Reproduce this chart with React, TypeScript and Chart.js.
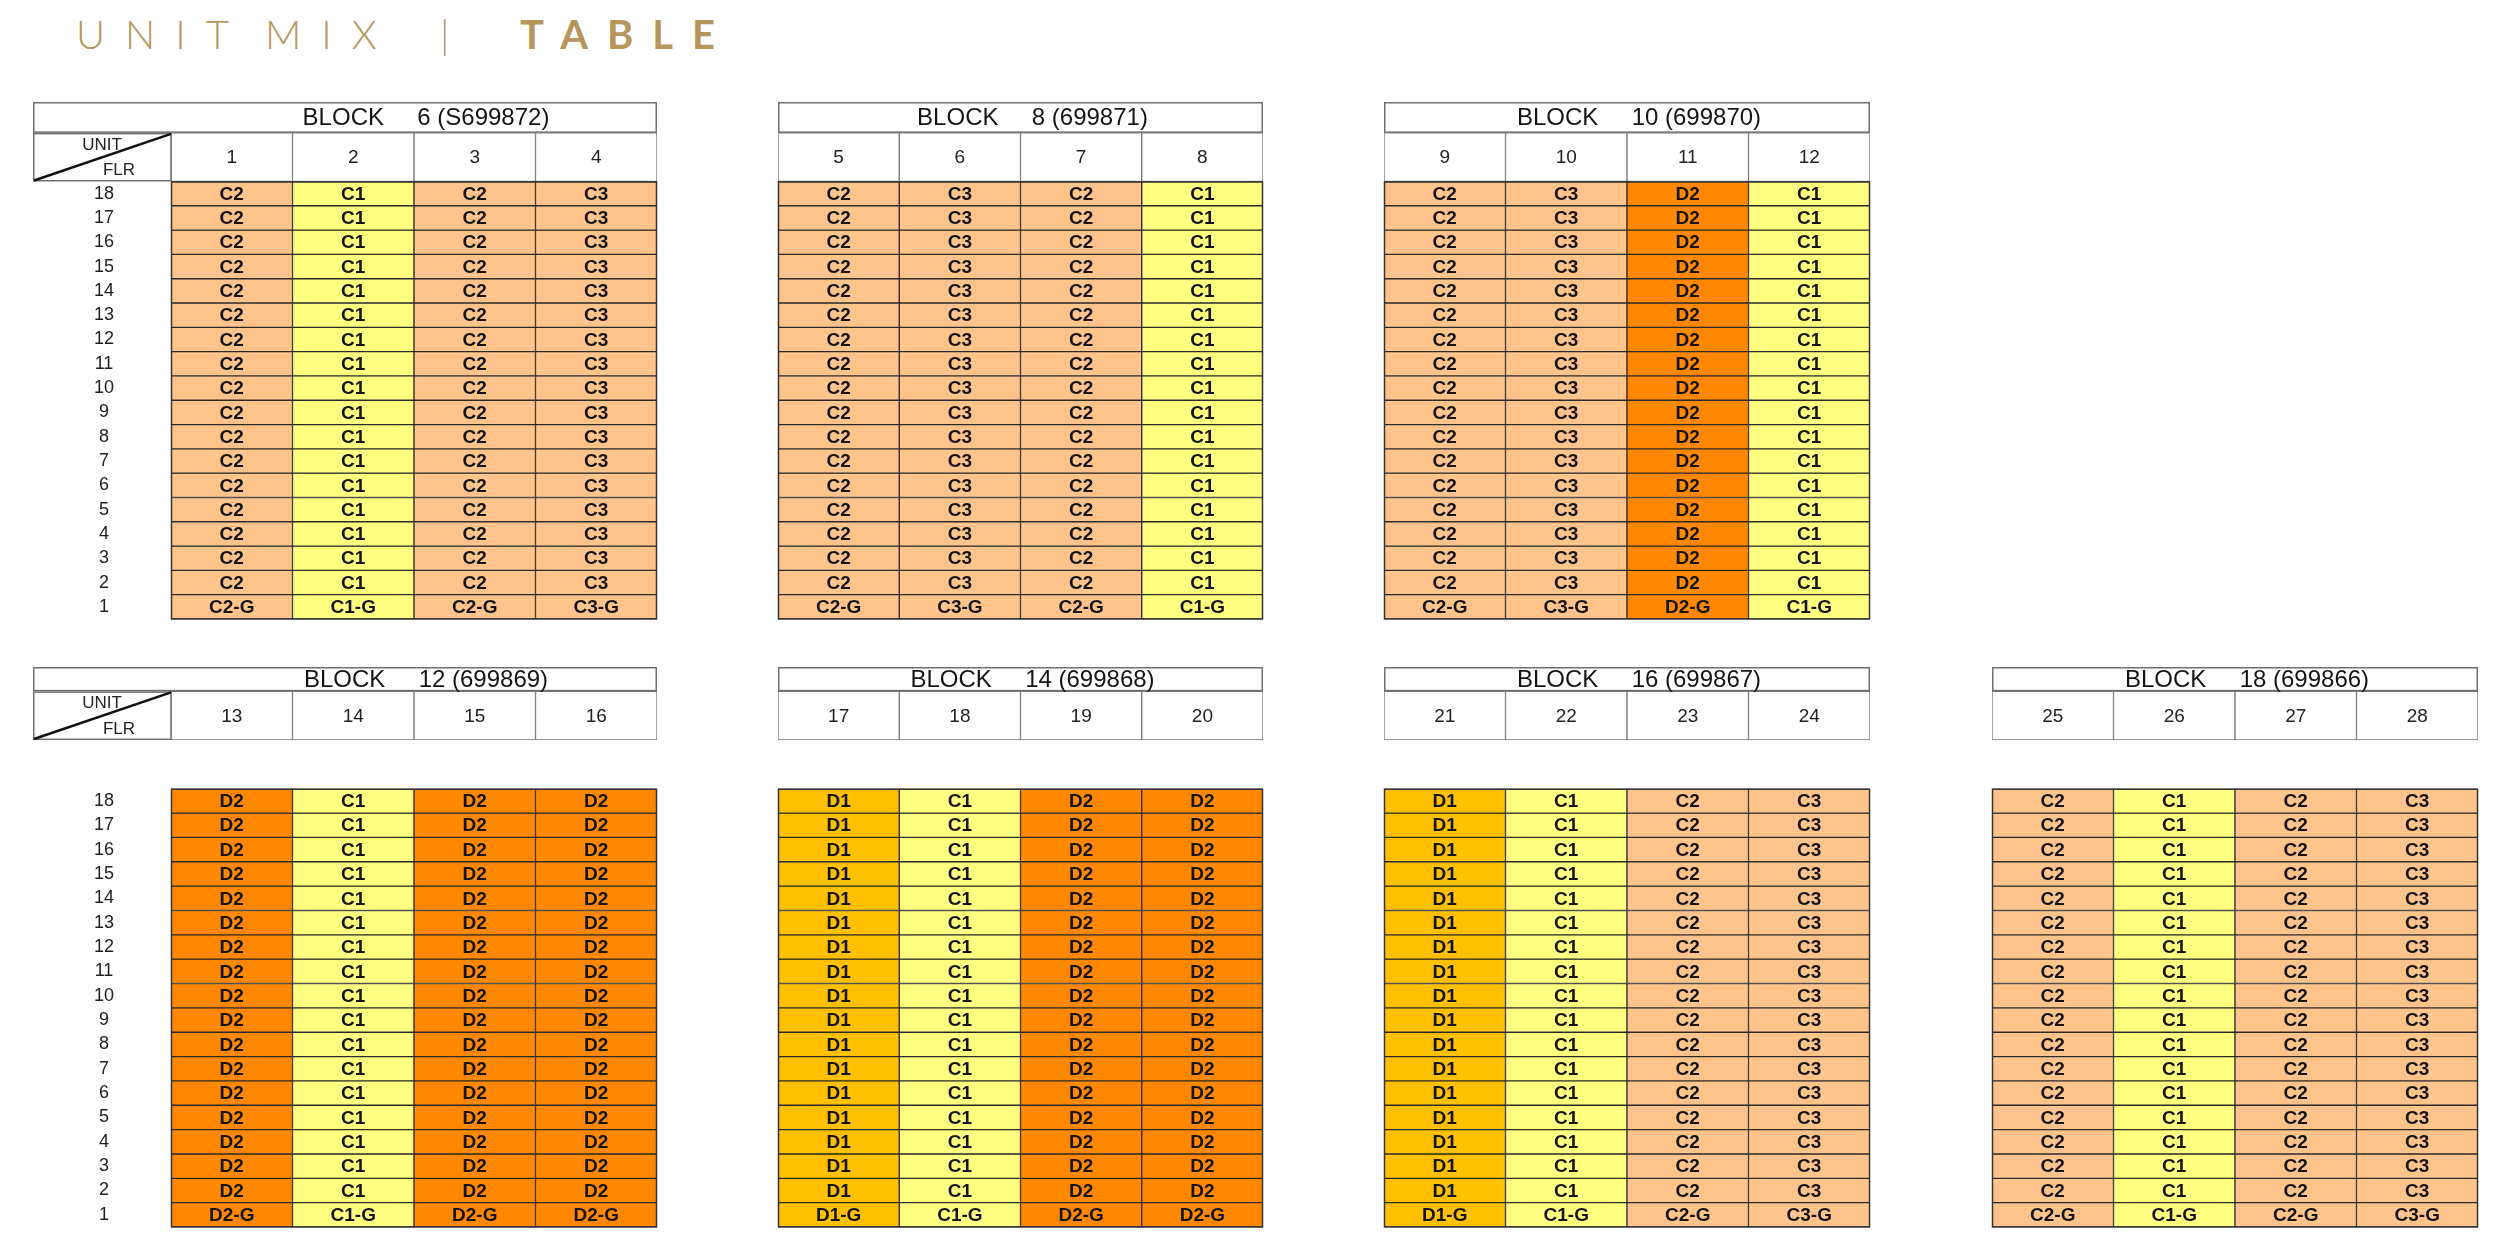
import React, { useEffect, useRef } from "react";
import { Chart, registerables } from "chart.js";

Chart.register(...registerables);

// ---------- data ----------
const floors = [18, 17, 16, 15, 14, 13, 12, 11, 10, 9, 8, 7, 6, 5, 4, 3, 2, 1];

const blockTitles = [
  "BLOCK     6 (S699872)",
  "BLOCK     8 (699871)",
  "BLOCK     10 (699870)",
  "BLOCK     12 (699869)",
  "BLOCK     14 (699868)",
  "BLOCK     16 (699867)",
  "BLOCK     18 (699866)",
];

const blockUnits = [
  ["1", "2", "3", "4"],
  ["5", "6", "7", "8"],
  ["9", "10", "11", "12"],
  ["13", "14", "15", "16"],
  ["17", "18", "19", "20"],
  ["21", "22", "23", "24"],
  ["25", "26", "27", "28"],
];

// unit type on floors 2-18
const typicalMix = [
  ["C2", "C1", "C2", "C3"],
  ["C2", "C3", "C2", "C1"],
  ["C2", "C3", "D2", "C1"],
  ["D2", "C1", "D2", "D2"],
  ["D1", "C1", "D2", "D2"],
  ["D1", "C1", "C2", "C3"],
  ["C2", "C1", "C2", "C3"],
];

// unit type on floor 1
const groundMix = [
  ["C2-G", "C1-G", "C2-G", "C3-G"],
  ["C2-G", "C3-G", "C2-G", "C1-G"],
  ["C2-G", "C3-G", "D2-G", "C1-G"],
  ["D2-G", "C1-G", "D2-G", "D2-G"],
  ["D1-G", "C1-G", "D2-G", "D2-G"],
  ["D1-G", "C1-G", "C2-G", "C3-G"],
  ["C2-G", "C1-G", "C2-G", "C3-G"],
];

const hasFloorColumn = [true, false, false, true, false, false, false];

// ---------- styles / layout ----------
const typeColours: Record<string, string> = {
  C1: "#FFFF80",
  C2: "#FFC48C",
  C3: "#FFC48C",
  D1: "#FFC000",
  D2: "#FF8800",
};

const FONT = '"Liberation Sans", Arial, sans-serif';
const PAD = 2;
const FLOOR_COL = 138;

const frames: Record<string, { top: number; bottom: number; max: number; head: [number, number]; title: [number, number] }> = {
  top: { top: 102, bottom: 619, max: 21.27, head: [18, 20], title: [20, 21.27] },
  bottom: { top: 667, bottom: 1227, max: 23, head: [20, 22], title: [22, 23] },
};

const blockLayout = [
  { left: 33, right: 657, row: "top" },
  { left: 778, right: 1263, row: "top" },
  { left: 1384, right: 1870, row: "top" },
  { left: 33, right: 657, row: "bottom" },
  { left: 778, right: 1263, row: "bottom" },
  { left: 1384, right: 1870, row: "bottom" },
  { left: 1992, right: 2478, row: "bottom" },
];

const cellTextPlugin = {
  id: "cellText",
  afterDatasetsDraw(chart: any) {
    const ctx = chart.ctx;
    chart.data.datasets.forEach((ds: any, di: number) => {
      const meta = chart.getDatasetMeta(di);
      ctx.save();
      ctx.font = ds.cellFont;
      ctx.fillStyle = ds.cellColor;
      ctx.textAlign = "center";
      ctx.textBaseline = "middle";
      meta.data.forEach((el: any, i: number) => {
        const cy = (el.y + el.base) / 2;
        ctx.fillText(ds.cellText[i], el.x, cy + 1);
      });
      ctx.restore();
    });
  },
};

function Block({ index }: { index: number }) {
  const ref = useRef<HTMLCanvasElement>(null);
  const lay = blockLayout[index];
  const frame = frames[lay.row];
  const width = lay.right - lay.left + 2 * PAD;
  const height = frame.bottom - frame.top + 2 * PAD;

  useEffect(() => {
    const units = blockUnits[index];
    const floorCol = hasFloorColumn[index];
    const typeAt = (f: number, i: number) => (f === 1 ? groundMix[index][i] : typicalMix[index][i]);

    const floorSets = floors.map((f) => ({
      label: `Floor ${f}`,
      data: units.map(() => [f - 1, f]),
      backgroundColor: units.map((_, i) => typeColours[typeAt(f, i).replace("-G", "")]),
      borderColor: "#2a2a2a",
      borderWidth: 1,
      borderSkipped: false,
      grouped: false,
      barPercentage: 1,
      categoryPercentage: 1,
      cellText: units.map((_, i) => typeAt(f, i)),
      cellFont: `bold 19px ${FONT}`,
      cellColor: "#141414",
    }));

    const headSet = {
      label: "Unit",
      data: units.map(() => [frame.head[0], frame.head[1]]),
      backgroundColor: "#ffffff",
      borderColor: "#777777",
      borderWidth: 1,
      borderSkipped: false,
      grouped: false,
      barPercentage: 1,
      categoryPercentage: 1,
      cellText: units,
      cellFont: `19px ${FONT}`,
      cellColor: "#222222",
    };

    const framePlugin = {
      id: "blockFrame",
      afterDraw(chart: any) {
        const { ctx, chartArea } = chart;
        const y = chart.scales.y;
        const left = floorCol ? y.left : chartArea.left;
        const right = chartArea.right;
        const tTop = y.getPixelForValue(frame.title[1]);
        const tBot = y.getPixelForValue(frame.title[0]);
        ctx.save();
        // title cell
        ctx.strokeStyle = "#707070";
        ctx.lineWidth = 1.5;
        ctx.strokeRect(left + 0.75, tTop + 0.75, right - left - 1.5, tBot - tTop - 1.5);
        ctx.fillStyle = "#151515";
        ctx.font = `24px ${FONT}`;
        ctx.textAlign = "center";
        ctx.textBaseline = "middle";
        ctx.fillText(blockTitles[index], (chartArea.left + chartArea.right) / 2 + 12, (tTop + tBot) / 2 + 1);

        // UNIT / FLR cell
        if (floorCol) {
          const hTop = y.getPixelForValue(frame.head[1]);
          const hBot = y.getPixelForValue(frame.head[0]);
          const l = y.left;
          const r = chartArea.left;
          ctx.strokeStyle = "#707070";
          ctx.lineWidth = 1.5;
          ctx.strokeRect(l + 0.75, hTop + 0.75, r - l - 0.75, hBot - hTop - 1.5);
          ctx.strokeStyle = "#111111";
          ctx.lineWidth = 2.5;
          ctx.beginPath();
          ctx.moveTo(l + 1, hBot - 1);
          ctx.lineTo(r, hTop + 1);
          ctx.stroke();
          ctx.fillStyle = "#222222";
          ctx.font = `17px ${FONT}`;
          ctx.textBaseline = "alphabetic";
          ctx.fillText("UNIT", l + 69, hTop + 17);
          ctx.fillText("FLR", l + 86, hBot - 6);
        }

        // outer frame of the floor grid
        const dTop = y.getPixelForValue(18);
        const dBot = y.getPixelForValue(0);
        ctx.strokeStyle = "#333333";
        ctx.lineWidth = 1.5;
        ctx.strokeRect(chartArea.left + 0.5, dTop + 0.5, right - chartArea.left - 1, dBot - dTop - 0.5);
        ctx.restore();
      },
    };

    const yScale: any = {
      type: "linear",
      min: 0,
      max: frame.max,
      display: floorCol,
      grid: { display: false },
      border: { display: false },
      afterBuildTicks: (s: any) => {
        s.ticks = floors.map((f) => ({ value: f - 0.5 }));
      },
      ticks: {
        autoSkip: false,
        crossAlign: "center",
        padding: 49,
        color: "#222222",
        font: { family: FONT, size: 18 },
        callback: (v: any) => String(Number(v) + 0.5),
      },
    };
    if (floorCol) {
      yScale.afterFit = (s: any) => {
        s.width = FLOOR_COL;
        s.paddingTop = 0;
        s.paddingBottom = 0;
      };
    }

    const chart = new Chart(ref.current as HTMLCanvasElement, {
      type: "bar",
      data: { labels: units, datasets: [...floorSets, headSet] as any },
      options: {
        animation: false,
        responsive: false,
        events: [],
        layout: { padding: PAD, autoPadding: false },
        plugins: { legend: { display: false }, tooltip: { enabled: false } },
        scales: {
          x: { type: "category", display: false, offset: true, grid: { display: false } },
          y: yScale,
        } as any,
      },
      plugins: [cellTextPlugin, framePlugin],
    } as any);
    return () => chart.destroy();
  }, [index]);

  return (
    <canvas
      ref={ref}
      width={width}
      height={height}
      style={{
        position: "absolute",
        left: lay.left - PAD,
        top: frame.top - PAD,
        width,
        height,
      }}
    />
  );
}

export default function App() {
  const gold = "#B6965D";
  const titleFont = 'Lato, "Open Sans", sans-serif';
  return (
    <div style={{ position: "absolute", left: 0, top: 0, width: 2520, height: 1236, background: "#ffffff", overflow: "hidden" }}>
      <div style={{ position: "absolute", left: 0, top: 14, height: 48, fontFamily: titleFont, fontSize: 40, lineHeight: "40px", color: gold, whiteSpace: "pre" }}>
        <span style={{ position: "absolute", left: 76, fontWeight: 300, letterSpacing: 20 }}>UNIT</span>
        <span style={{ position: "absolute", left: 265, fontWeight: 300, letterSpacing: 20 }}>MIX</span>
        <span style={{ position: "absolute", left: 440, fontWeight: 300 }}>|</span>
        <span style={{ position: "absolute", left: 520, fontWeight: 700, letterSpacing: 19 }}>TABLE</span>
      </div>
      {blockTitles.map((_, i) => (
        <Block key={i} index={i} />
      ))}
    </div>
  );
}
